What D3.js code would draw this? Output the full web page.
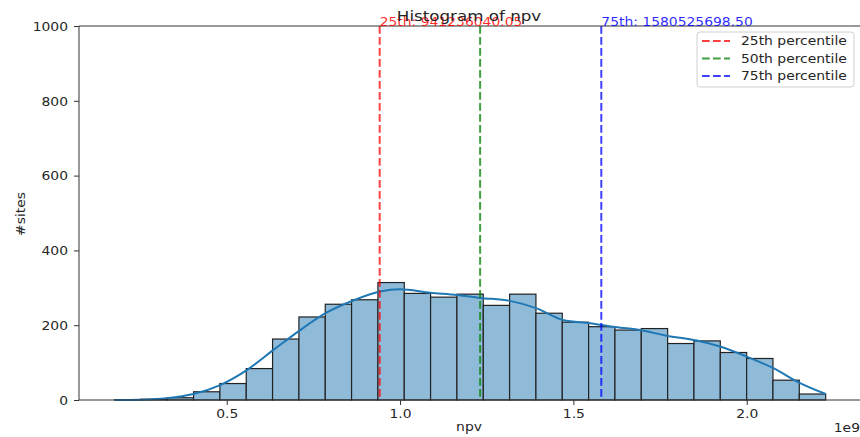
<!DOCTYPE html>
<html>
<head>
<script src="https://d3js.org/d3.v7.min.js"></script>
<style>
  body { margin: 0; background: #fff; }
  text { font-family: 'DejaVu Sans', sans-serif; fill: #262626; }
</style>
</head>
<body>
<svg id="chart" width="860" height="437"></svg>
<script>
'use strict';

// histogram bin edges (x 1e9) and counts per bin
var binEdges = [0.1765, 0.2525, 0.3284, 0.4044, 0.4804, 0.5564, 0.6323, 0.7083, 0.7843,
  0.8602, 0.9362, 1.0122, 1.0881, 1.1641, 1.2401, 1.3160, 1.3920, 1.4680, 1.5440,
  1.6199, 1.6959, 1.7719, 1.8478, 1.9238, 1.9998, 2.0757, 2.1517, 2.2277];
var binCounts = [1, 2, 6, 22, 44, 84, 163, 222, 256, 268, 314, 285, 275, 283, 253, 283,
  232, 208, 196, 187, 191, 151, 158, 127, 111, 53, 16];

// kde curve (x in 1e9, y in counts)
var kdeX = [0.1765, 0.250, 0.327, 0.404, 0.481, 0.558, 0.635, 0.712, 0.789, 0.865, 0.942,
  1.000, 1.087, 1.164, 1.231, 1.317, 1.394, 1.470, 1.548, 1.614, 1.692, 1.769, 1.856,
  1.923, 2.000, 2.077, 2.154, 2.2277];
var kdeY = [0, 1, 5, 16, 40, 80, 134, 187, 234, 266, 290, 296, 287, 281, 273, 265, 245,
  214, 205, 196, 187, 172, 159, 143, 116, 85, 45, 16];

var pctNames = ['25th percentile', '50th percentile', '75th percentile'];
var pctValues = [941236040.05, 1231000000, 1580525698.50];
var pctLabels = ['25th: 941236040.05', null, '75th: 1580525698.50'];
var pctColors = ['#ff0000', '#008000', '#0000ff'];

var xTicks = [0.5, 1.0, 1.5, 2.0];
var yTicks = [0, 200, 400, 600, 800, 1000];

var svg = d3.select('#chart');
var pl = 79, pt = 26, pb = 400, pr = 861.2;
var SQ = 0.82;  // text in the picture is a bit flattened

var x = d3.scaleLinear().domain([0.07394, 2.33026]).range([pl, pr]);
var y = d3.scaleLinear().domain([0, 1000]).range([pb, pt]);

function label(g, px, py, txt, size, anchor, rot) {
  return g.append('text')
    .attr('transform', 'translate(' + px + ',' + py + ')' + (rot ? ' rotate(' + rot + ')' : '') + ' scale(1,' + SQ + ')')
    .attr('text-anchor', anchor || 'start')
    .style('font-size', size + 'px')
    .text(txt);
}

// bars
var bins = binCounts.map(function(c, i) { return {x0: binEdges[i], x1: binEdges[i + 1], n: c}; });
svg.append('g').selectAll('rect')
  .data(bins)
  .enter().append('rect')
  .attr('x', function(d) { return x(d.x0); })
  .attr('y', function(d) { return y(d.n); })
  .attr('width', function(d) { return x(d.x1) - x(d.x0); })
  .attr('height', function(d) { return y(0) - y(d.n); })
  .attr('fill', '#8fbbd9')
  .attr('stroke', '#222')
  .attr('stroke-width', 1.2);

// kde
var kde = d3.line()
  .x(function(d) { return x(d[0]); })
  .y(function(d) { return y(d[1]); })
  .curve(d3.curveMonotoneX);
svg.append('path')
  .datum(kdeX.map(function(v, i) { return [v, kdeY[i]]; }))
  .attr('d', kde)
  .attr('fill', 'none')
  .attr('stroke', '#1f77b4')
  .attr('stroke-width', 2);

// percentile lines
pctValues.forEach(function(v, i) {
  var px = x(v / 1e9);
  svg.append('line')
    .attr('x1', px).attr('x2', px)
    .attr('y1', pt).attr('y2', pb)
    .attr('stroke', pctColors[i])
    .attr('stroke-opacity', 0.75)
    .attr('stroke-width', 2)
    .attr('stroke-dasharray', '7.7,3.3');
});

// spines
svg.append('line').attr('x1', pl).attr('x2', pl).attr('y1', pt).attr('y2', pb)
  .attr('stroke', '#333').attr('stroke-width', 1);
svg.append('line').attr('x1', pl).attr('x2', pr).attr('y1', pb).attr('y2', pb)
  .attr('stroke', '#333').attr('stroke-width', 1);
svg.append('line').attr('x1', pl).attr('x2', pr).attr('y1', pt).attr('y2', pt)
  .attr('stroke', '#333').attr('stroke-width', 1);

// axes
var xAxis = svg.append('g').attr('transform', 'translate(0,' + pb + ')')
  .call(d3.axisBottom(x).tickValues(xTicks).tickFormat(d3.format('.1f')).tickSize(5));
var yAxis = svg.append('g').attr('transform', 'translate(' + pl + ',0)')
  .call(d3.axisLeft(y).tickValues(yTicks).tickFormat(d3.format('d')).tickSize(5));
[xAxis, yAxis].forEach(function(a) {
  a.select('.domain').remove();
  a.selectAll('line').attr('stroke', '#333');
  a.selectAll('text').attr('fill', '#262626').attr('x', null).attr('y', null).attr('dy', null)
    .style('font-family', "'DejaVu Sans', sans-serif").style('font-size', '13.9px');
});
xAxis.selectAll('text').attr('transform', 'translate(0,18) scale(1,' + SQ + ')');
yAxis.selectAll('text').attr('transform', 'translate(-11,4.2) scale(1,' + SQ + ')');

// percentile labels
pctValues.forEach(function(v, i) {
  if (!pctLabels[i]) return;
  label(svg, x(v / 1e9), y(1000), pctLabels[i], 13.9)
    .style('fill', pctColors[i])
    .style('fill-opacity', 0.85);
});

// title & labels
label(svg, 469, 21, 'Histogram of npv', 16.7, 'middle');
label(svg, 469, 431, 'npv', 13.9, 'middle');
label(svg, 25, 214, '#sites', 13.9, 'middle', -90);
label(svg, 860, 431.5, '1e9', 13.9, 'end');

// legend
var lg = svg.append('g');
lg.append('rect').attr('x', 697).attr('y', 32).attr('width', 157).attr('height', 55)
  .attr('rx', 3).attr('fill', '#fff').attr('fill-opacity', 0.8)
  .attr('stroke', '#d0d0d0');
pctNames.forEach(function(n, i) {
  var ry = 41 + i * 17.5;
  lg.append('line').attr('x1', 702).attr('x2', 730).attr('y1', ry).attr('y2', ry)
    .attr('stroke', pctColors[i]).attr('stroke-opacity', 0.75)
    .attr('stroke-width', 2).attr('stroke-dasharray', '7.7,3.3');
  label(lg, 741, ry + 4.2, n, 13.9);
});
</script>
</body>
</html>
